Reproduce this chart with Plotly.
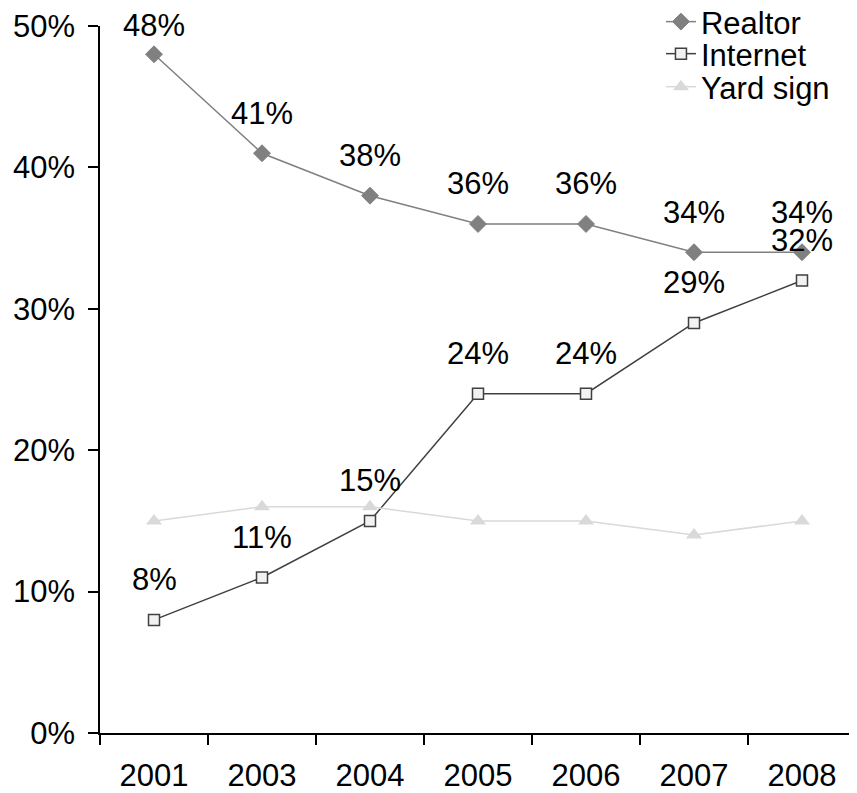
import plotly.graph_objects as go

years = ["2001", "2003", "2004", "2005", "2006", "2007", "2008"]
realtor = [48, 41, 38, 36, 36, 34, 34]
internet = [8, 11, 15, 24, 24, 29, 32]
yard_sign = [15, 16, 16, 15, 15, 14, 15]
y_ticks = [0, 10, 20, 30, 40, 50]

FONT = "Liberation Sans, Arial, sans-serif"
FS = 31

fig = go.Figure()
fig.add_trace(go.Scatter(
    x=years, y=realtor, name="Realtor", mode="lines+markers", legend="legend",
    line=dict(color="#808080", width=1.5),
    marker=dict(symbol="diamond", size=13, color="#808080", line=dict(color="#808080", width=1)),
))
fig.add_trace(go.Scatter(
    x=years, y=internet, name="Internet", mode="lines+markers", legend="legend2",
    line=dict(color="#404040", width=1.5),
    marker=dict(symbol="square", size=11, color="#f2f2f2", line=dict(color="#404040", width=1.5)),
))
fig.add_trace(go.Scatter(
    x=years, y=yard_sign, name="Yard sign", mode="lines+markers", legend="legend3",
    line=dict(color="#d9d9d9", width=1.5),
    marker=dict(symbol="triangle-up", size=14, color="#d9d9d9", line=dict(width=0)),
))

annotations = []
for series in (realtor, internet):
    for i, v in enumerate(series):
        shift = 29 if v >= 47 else 40
        annotations.append(dict(
            xref="x", yref="y", x=i, y=v, text=f"{v}%", showarrow=False, yshift=shift,
            font=dict(family=FONT, size=FS, color="#000000"),
            xanchor="center", yanchor="middle",
        ))

def leg(y):
    return dict(
        x=0.742, y=y, xanchor="left", yanchor="middle",
        bgcolor="rgba(0,0,0,0)", font=dict(family=FONT, size=FS),
        borderwidth=0,
    )

fig.update_layout(
    width=849, height=785,
    margin=dict(l=92, r=1, t=18, b=60, autoexpand=False),
    paper_bgcolor="white", plot_bgcolor="white",
    font=dict(family=FONT, size=FS, color="#000000"),
    showlegend=True,
    legend=leg(1.0057),
    legend2=leg(0.9604),
    legend3=leg(0.9137),
    annotations=annotations,
    xaxis=dict(
        type="category", range=[-0.5, 6.5],
        showline=True, linecolor="#000000", linewidth=1.5,
        ticks="outside", tickson="boundaries", ticklen=10, tickwidth=1.5, tickcolor="#000000",
        ticklabelstandoff=14,
        showgrid=False, zeroline=False, automargin=False,
        tickfont=dict(family=FONT, size=FS),
    ),
    yaxis=dict(
        range=[0, 50], tickvals=y_ticks, ticktext=[f"{t}%" for t in y_ticks],
        showline=True, linecolor="#000000", linewidth=1.5,
        ticks="outside", ticklen=10, tickwidth=1.5, tickcolor="#000000",
        ticklabelstandoff=7,
        showgrid=False, zeroline=False, automargin=False,
        tickfont=dict(family=FONT, size=FS),
    ),
)

fig.write_html("out.html")
